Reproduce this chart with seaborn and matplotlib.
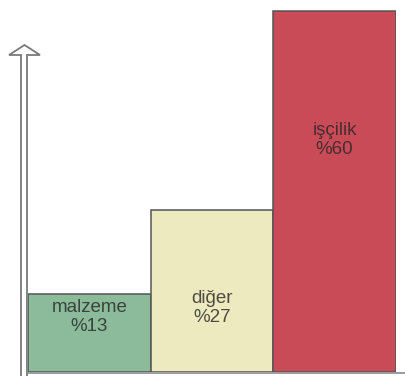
import matplotlib
matplotlib.use("Agg")
import matplotlib.pyplot as plt
from matplotlib.patches import Polygon
from matplotlib.lines import Line2D
import seaborn as sns

# Cost breakdown (percent)
categories = ["malzeme", "diğer", "işçilik"]
values = [13, 27, 60]
labels = ["malzeme\n%13", "diğer\n%27", "işçilik\n%60"]
label_y = [9.1, 10.6, 38.6]
colors = ["#8bbb9b", "#eeeabf", "#c94b58"]

sns.set_theme(style="white")
plt.rcParams["font.family"] = ["Liberation Sans", "DejaVu Sans"]

W, H = 406, 376
fig = plt.figure(figsize=(W / 100, H / 100), dpi=100)
fig.patch.set_facecolor("white")

# axes box in pixels: left 28, bottom 4, width 368, height 372
ax = fig.add_axes([28 / W, 4 / H, 368 / W, 372 / H])
px_per_unit = 361 / max(values)
ax.set_xlim(-0.5, 2.5)
ax.set_ylim(0, 372 / px_per_unit)

sns.barplot(x=categories, y=values, hue=categories, palette=colors,
            saturation=1, width=1.0, edgecolor="#555555", linewidth=1.1,
            legend=False, ax=ax)

for i, (txt, yy) in enumerate(zip(labels, label_y)):
    ax.text(i, yy, txt, ha="center", va="center", fontsize=13.5,
            color="#262626", alpha=0.8, linespacing=1.15)

ax.set_axis_off()

# baseline under the bars
fig.add_artist(Line2D([28 / W, 1.0], [3.5 / H, 3.5 / H],
                      color="#8a8a8a", linewidth=1.2))

# hollow vertical arrow on the left
pts_img = [(21, 390), (21, 55), (9, 55), (24.5, 45), (40, 55),
           (27, 55), (27, 390)]
pts = [(x / 100, (H - y) / 100) for x, y in pts_img]
fig.add_artist(Polygon(pts, closed=True, facecolor="white",
                       edgecolor="#7a7a7a", linewidth=1.3,
                       transform=fig.dpi_scale_trans))

fig.savefig("out.png", dpi=100, facecolor="white")
